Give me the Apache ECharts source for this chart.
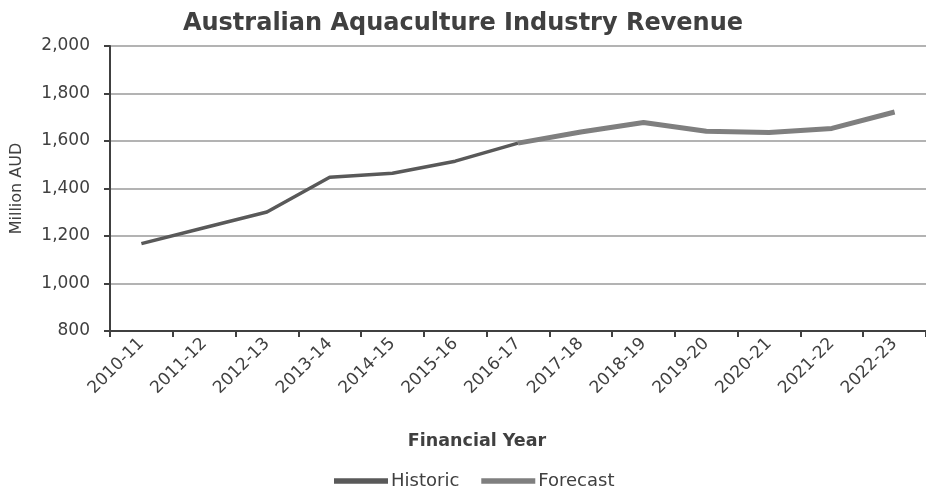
<!DOCTYPE html>
<html><head><meta charset="utf-8">
<script src="https://cdn.jsdelivr.net/npm/echarts@6/dist/echarts.min.js"></script>
<style>html,body{margin:0;padding:0;background:#fff}#c{width:926px;height:491px}</style>
</head><body><div id="c"></div>
<script>
var categories = ['2010-11','2011-12','2012-13','2013-14','2014-15','2015-16','2016-17','2017-18','2018-19','2019-20','2020-21','2021-22','2022-23'];
var historic = [1168, 1235, 1301, 1447, 1464, 1515, 1591, null, null, null, null, null, null];
var forecast = [null, null, null, null, null, null, 1591, 1638, 1678, 1641, 1636, 1653, 1722];
var yTicks = [800, 1000, 1200, 1400, 1600, 1800, 2000];

var FONT = 'DejaVu Sans';
var chart = echarts.init(document.getElementById('c'));
chart.setOption({
  animation: false,
  backgroundColor: '#fff',
  title: {
    text: 'Australian Aquaculture Industry Revenue',
    left: 458, top: 7, textAlign: 'center',
    textStyle: {fontFamily: FONT, fontWeight: 'bold', fontSize: 24, color: '#404040'}
  },
  legend: {
    top: 467, left: 329, itemWidth: 54, itemHeight: 14, itemGap: 22,
    icon: 'path://M0,0 L10,0 L10,1 L0,1 Z',
    textStyle: {fontFamily: FONT, fontSize: 18, color: '#404040', padding: [0,0,0,-2]},
    data: [
      {name: 'Historic', itemStyle: {color: '#595959'}},
      {name: 'Forecast', itemStyle: {color: '#7f7f7f'}}
    ]
  },
  grid: {left: 110, top: 46, width: 825, height: 285, containLabel: false},
  xAxis: {
    type: 'category', data: categories, boundaryGap: true,
    name: 'Financial Year', nameLocation: 'middle', nameGap: 101,
    nameTextStyle: {fontFamily: FONT, fontWeight: 'bold', fontSize: 17.5, color: '#404040', padding: [0, 82, 0, 0]},
    axisLine: {lineStyle: {color: '#404040', width: 2}},
    axisTick: {show: true, length: 6, lineStyle: {color: '#404040', width: 2}},
    axisLabel: {rotate: 45, fontFamily: FONT, fontSize: 17, color: '#404040', margin: 10}
  },
  yAxis: {
    type: 'value', min: yTicks[0], max: yTicks[yTicks.length-1], interval: 200,
    name: 'Million AUD', nameLocation: 'middle', nameGap: 85, nameRotate: 90,
    nameTextStyle: {fontFamily: FONT, fontSize: 16, color: '#404040'},
    axisLine: {show: true, lineStyle: {color: '#404040', width: 2}},
    axisTick: {show: true, length: 6, lineStyle: {color: '#404040', width: 2}},
    axisLabel: {fontFamily: FONT, fontSize: 17, color: '#404040', margin: 20,
      formatter: function(v){ return v.toLocaleString('en-US'); }},
    splitLine: {show: true, lineStyle: {color: '#b3b3b3', width: 2}}
  },
  series: [
    {name: 'Historic', type: 'line', data: historic, symbol: 'none', connectNulls: false,
     lineStyle: {color: '#595959', width: 3.5}, itemStyle: {color: '#595959'}},
    {name: 'Forecast', type: 'line', data: forecast, symbol: 'none', connectNulls: false,
     lineStyle: {color: '#7f7f7f', width: 5}, itemStyle: {color: '#7f7f7f'}}
  ]
});
</script></body></html>
